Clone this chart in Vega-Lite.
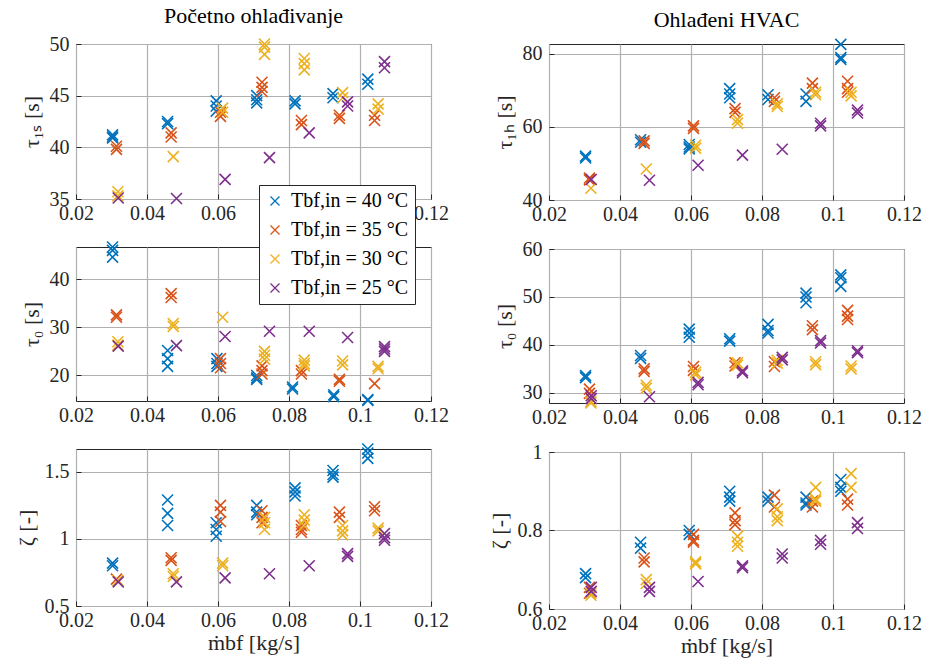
{
"$schema":"https://vega.github.io/schema/vega-lite/v6.json",
"padding":{"left":14,"top":4,"right":4,"bottom":4},
"config":{"font":"Liberation Serif","view":{"stroke":"#262626","strokeWidth":1},
"axis":{"grid":true,"gridColor":"#b0b0b0","gridWidth":1.2,"domain":false,"ticks":true,"tickSize":-5,"tickColor":"#262626","labelFont":"Liberation Serif","titleFont":"Liberation Serif","labelFontSize":20,"labelColor":"#262626","labelPadding":9,"titleFontSize":22,"titleFontWeight":"normal","titleColor":"#262626","labelFlush":false},
"axisY":{"labelPadding":12,"titlePadding":6},
"legend":{"orient":"none","legendX":183,"legendY":141,"fillColor":"white","strokeColor":"#262626","padding":6,"rowPadding":9,"labelFont":"Liberation Serif","labelFontSize":20,"labelColor":"#000","symbolType":"M-1,-1L1,1M-1,1L1,-1","symbolSize":81,"symbolStrokeWidth":1.3,"labelLimit":300,"labelOffset":6}},
"data":{"values":[
{"p":"a","T":"40","m":0.0303,"v":41.2},{"p":"a","T":"40","m":0.0303,"v":41.0},{"p":"a","T":"40","m":0.0303,"v":40.9},
{"p":"a","T":"40","m":0.0458,"v":42.5},{"p":"a","T":"40","m":0.0458,"v":42.3},
{"p":"a","T":"40","m":0.0595,"v":44.5},{"p":"a","T":"40","m":0.0595,"v":44.0},{"p":"a","T":"40","m":0.0595,"v":43.5},
{"p":"a","T":"40","m":0.0709,"v":45.0},{"p":"a","T":"40","m":0.0709,"v":44.6},{"p":"a","T":"40","m":0.0709,"v":44.3},
{"p":"a","T":"40","m":0.0817,"v":44.5},{"p":"a","T":"40","m":0.0817,"v":44.2},
{"p":"a","T":"40","m":0.0924,"v":45.2},{"p":"a","T":"40","m":0.0924,"v":44.8},
{"p":"a","T":"40","m":0.1022,"v":46.6},{"p":"a","T":"40","m":0.1022,"v":46.1},
{"p":"a","T":"35","m":0.0314,"v":40.1},{"p":"a","T":"35","m":0.0314,"v":39.8},
{"p":"a","T":"35","m":0.0468,"v":41.4},{"p":"a","T":"35","m":0.0468,"v":41.0},
{"p":"a","T":"35","m":0.0607,"v":43.4},{"p":"a","T":"35","m":0.0607,"v":43.0},
{"p":"a","T":"35","m":0.0724,"v":46.3},{"p":"a","T":"35","m":0.0724,"v":45.8},{"p":"a","T":"35","m":0.0724,"v":45.4},
{"p":"a","T":"35","m":0.0835,"v":42.6},{"p":"a","T":"35","m":0.0835,"v":42.2},
{"p":"a","T":"35","m":0.0942,"v":43.1},{"p":"a","T":"35","m":0.0942,"v":42.8},
{"p":"a","T":"35","m":0.1041,"v":43.1},{"p":"a","T":"35","m":0.1041,"v":42.6},
{"p":"a","T":"30","m":0.0318,"v":35.7},{"p":"a","T":"30","m":0.0318,"v":35.3},
{"p":"a","T":"30","m":0.0474,"v":39.1},
{"p":"a","T":"30","m":0.0613,"v":43.8},{"p":"a","T":"30","m":0.0613,"v":43.4},
{"p":"a","T":"30","m":0.0731,"v":50.0},{"p":"a","T":"30","m":0.0731,"v":49.7},{"p":"a","T":"30","m":0.0731,"v":49.0},
{"p":"a","T":"30","m":0.0843,"v":48.6},{"p":"a","T":"30","m":0.0843,"v":48.1},{"p":"a","T":"30","m":0.0843,"v":47.5},
{"p":"a","T":"30","m":0.0951,"v":45.3},{"p":"a","T":"30","m":0.0951,"v":44.8},
{"p":"a","T":"30","m":0.1051,"v":44.2},{"p":"a","T":"30","m":0.1051,"v":43.7},
{"p":"a","T":"25","m":0.0319,"v":35.1},
{"p":"a","T":"25","m":0.0483,"v":35.05},
{"p":"a","T":"25","m":0.062,"v":36.9},
{"p":"a","T":"25","m":0.0745,"v":39.0},
{"p":"a","T":"25","m":0.0857,"v":41.4},
{"p":"a","T":"25","m":0.0965,"v":44.4},{"p":"a","T":"25","m":0.0965,"v":44.0},
{"p":"a","T":"25","m":0.1069,"v":48.3},{"p":"a","T":"25","m":0.1069,"v":47.7},

{"p":"b","T":"40","m":0.0303,"v":52.0},{"p":"b","T":"40","m":0.0303,"v":51.5},
{"p":"b","T":"40","m":0.0458,"v":56.5},{"p":"b","T":"40","m":0.0458,"v":55.8},
{"p":"b","T":"40","m":0.0595,"v":55.2},{"p":"b","T":"40","m":0.0595,"v":54.5},{"p":"b","T":"40","m":0.0595,"v":54.0},
{"p":"b","T":"40","m":0.0709,"v":70.5},{"p":"b","T":"40","m":0.0709,"v":69.0},{"p":"b","T":"40","m":0.0709,"v":68.0},
{"p":"b","T":"40","m":0.0817,"v":68.8},{"p":"b","T":"40","m":0.0817,"v":67.5},
{"p":"b","T":"40","m":0.0924,"v":69.0},{"p":"b","T":"40","m":0.0924,"v":67.0},
{"p":"b","T":"40","m":0.1022,"v":82.6},{"p":"b","T":"40","m":0.1022,"v":79.0},{"p":"b","T":"40","m":0.1022,"v":78.5},
{"p":"b","T":"35","m":0.0314,"v":46.0},{"p":"b","T":"35","m":0.0314,"v":45.5},
{"p":"b","T":"35","m":0.0468,"v":56.2},{"p":"b","T":"35","m":0.0468,"v":55.5},
{"p":"b","T":"35","m":0.0607,"v":60.3},{"p":"b","T":"35","m":0.0607,"v":59.6},
{"p":"b","T":"35","m":0.0724,"v":65.0},{"p":"b","T":"35","m":0.0724,"v":64.0},
{"p":"b","T":"35","m":0.0835,"v":68.0},{"p":"b","T":"35","m":0.0835,"v":67.0},
{"p":"b","T":"35","m":0.0942,"v":72.0},{"p":"b","T":"35","m":0.0942,"v":70.5},
{"p":"b","T":"35","m":0.1041,"v":72.5},{"p":"b","T":"35","m":0.1041,"v":70.5},{"p":"b","T":"35","m":0.1041,"v":69.5},
{"p":"b","T":"30","m":0.0318,"v":43.2},
{"p":"b","T":"30","m":0.0474,"v":48.5},
{"p":"b","T":"30","m":0.0613,"v":55.0},{"p":"b","T":"30","m":0.0613,"v":54.2},
{"p":"b","T":"30","m":0.0731,"v":62.0},{"p":"b","T":"30","m":0.0731,"v":61.0},
{"p":"b","T":"30","m":0.0843,"v":66.3},{"p":"b","T":"30","m":0.0843,"v":65.6},
{"p":"b","T":"30","m":0.0951,"v":69.5},{"p":"b","T":"30","m":0.0951,"v":68.8},
{"p":"b","T":"30","m":0.1051,"v":69.5},{"p":"b","T":"30","m":0.1051,"v":68.5},
{"p":"b","T":"25","m":0.0319,"v":45.6},
{"p":"b","T":"25","m":0.0483,"v":45.4},
{"p":"b","T":"25","m":0.062,"v":49.5},
{"p":"b","T":"25","m":0.0745,"v":52.3},
{"p":"b","T":"25","m":0.0857,"v":53.9},
{"p":"b","T":"25","m":0.0965,"v":61.0},{"p":"b","T":"25","m":0.0965,"v":60.3},
{"p":"b","T":"25","m":0.1069,"v":64.6},{"p":"b","T":"25","m":0.1069,"v":63.8},

{"p":"c","T":"40","m":0.0303,"v":46.7},{"p":"c","T":"40","m":0.0303,"v":46.0},{"p":"c","T":"40","m":0.0303,"v":44.6},
{"p":"c","T":"40","m":0.0458,"v":25.2},{"p":"c","T":"40","m":0.0458,"v":23.5},{"p":"c","T":"40","m":0.0458,"v":21.9},
{"p":"c","T":"40","m":0.0597,"v":23.5},{"p":"c","T":"40","m":0.0597,"v":22.5},{"p":"c","T":"40","m":0.0597,"v":21.9},
{"p":"c","T":"40","m":0.0709,"v":20.0},{"p":"c","T":"40","m":0.0709,"v":19.5},{"p":"c","T":"40","m":0.0709,"v":19.2},
{"p":"c","T":"40","m":0.0810,"v":17.6},{"p":"c","T":"40","m":0.0810,"v":17.2},
{"p":"c","T":"40","m":0.0926,"v":16.0},{"p":"c","T":"40","m":0.0926,"v":15.6},
{"p":"c","T":"40","m":0.1022,"v":15.0},{"p":"c","T":"40","m":0.1022,"v":14.8},
{"p":"c","T":"35","m":0.0314,"v":32.6},{"p":"c","T":"35","m":0.0314,"v":32.1},
{"p":"c","T":"35","m":0.0468,"v":37.0},{"p":"c","T":"35","m":0.0468,"v":36.2},
{"p":"c","T":"35","m":0.0607,"v":23.5},{"p":"c","T":"35","m":0.0607,"v":22.5},{"p":"c","T":"35","m":0.0607,"v":21.6},
{"p":"c","T":"35","m":0.0724,"v":22.0},{"p":"c","T":"35","m":0.0724,"v":21.0},{"p":"c","T":"35","m":0.0724,"v":20.3},
{"p":"c","T":"35","m":0.0835,"v":21.0},{"p":"c","T":"35","m":0.0835,"v":20.3},
{"p":"c","T":"35","m":0.0942,"v":19.2},{"p":"c","T":"35","m":0.0942,"v":18.8},
{"p":"c","T":"35","m":0.1041,"v":18.3},
{"p":"c","T":"30","m":0.0318,"v":27.0},{"p":"c","T":"30","m":0.0318,"v":26.3},
{"p":"c","T":"30","m":0.0474,"v":30.8},{"p":"c","T":"30","m":0.0474,"v":30.2},
{"p":"c","T":"30","m":0.0613,"v":32.1},
{"p":"c","T":"30","m":0.0731,"v":25.0},{"p":"c","T":"30","m":0.0731,"v":24.2},{"p":"c","T":"30","m":0.0731,"v":23.4},
{"p":"c","T":"30","m":0.0843,"v":23.2},{"p":"c","T":"30","m":0.0843,"v":22.5},{"p":"c","T":"30","m":0.0843,"v":22.0},
{"p":"c","T":"30","m":0.0951,"v":23.0},{"p":"c","T":"30","m":0.0951,"v":22.2},
{"p":"c","T":"30","m":0.1051,"v":21.9},{"p":"c","T":"30","m":0.1051,"v":21.4},
{"p":"c","T":"25","m":0.0319,"v":26.1},
{"p":"c","T":"25","m":0.0483,"v":26.2},
{"p":"c","T":"25","m":0.062,"v":28.1},
{"p":"c","T":"25","m":0.0745,"v":29.2},
{"p":"c","T":"25","m":0.0857,"v":29.2},
{"p":"c","T":"25","m":0.0965,"v":27.9},
{"p":"c","T":"25","m":0.1069,"v":26.0},{"p":"c","T":"25","m":0.1069,"v":25.5},{"p":"c","T":"25","m":0.1069,"v":25.0},

{"p":"d","T":"40","m":0.0303,"v":33.6},{"p":"d","T":"40","m":0.0303,"v":33.2},
{"p":"d","T":"40","m":0.0458,"v":37.8},{"p":"d","T":"40","m":0.0458,"v":37.2},
{"p":"d","T":"40","m":0.0595,"v":43.3},{"p":"d","T":"40","m":0.0595,"v":42.5},{"p":"d","T":"40","m":0.0595,"v":41.6},
{"p":"d","T":"40","m":0.0709,"v":41.3},{"p":"d","T":"40","m":0.0709,"v":40.8},
{"p":"d","T":"40","m":0.0817,"v":44.3},{"p":"d","T":"40","m":0.0817,"v":43.0},{"p":"d","T":"40","m":0.0817,"v":42.5},
{"p":"d","T":"40","m":0.0924,"v":50.8},{"p":"d","T":"40","m":0.0924,"v":50.0},{"p":"d","T":"40","m":0.0924,"v":48.8},
{"p":"d","T":"40","m":0.1022,"v":54.6},{"p":"d","T":"40","m":0.1022,"v":54.0},{"p":"d","T":"40","m":0.1022,"v":52.2},
{"p":"d","T":"35","m":0.0314,"v":30.8},{"p":"d","T":"35","m":0.0314,"v":29.9},
{"p":"d","T":"35","m":0.0468,"v":35.0},{"p":"d","T":"35","m":0.0468,"v":34.5},
{"p":"d","T":"35","m":0.0607,"v":35.5},{"p":"d","T":"35","m":0.0607,"v":34.7},
{"p":"d","T":"35","m":0.0724,"v":36.3},{"p":"d","T":"35","m":0.0724,"v":35.6},
{"p":"d","T":"35","m":0.0835,"v":36.5},{"p":"d","T":"35","m":0.0835,"v":35.5},
{"p":"d","T":"35","m":0.0942,"v":44.0},{"p":"d","T":"35","m":0.0942,"v":43.2},
{"p":"d","T":"35","m":0.1041,"v":47.2},{"p":"d","T":"35","m":0.1041,"v":46.0},{"p":"d","T":"35","m":0.1041,"v":45.3},
{"p":"d","T":"30","m":0.0318,"v":28.2},{"p":"d","T":"30","m":0.0318,"v":27.9},
{"p":"d","T":"30","m":0.0474,"v":31.6},{"p":"d","T":"30","m":0.0474,"v":31.0},
{"p":"d","T":"30","m":0.0613,"v":34.3},{"p":"d","T":"30","m":0.0613,"v":33.8},
{"p":"d","T":"30","m":0.0731,"v":36.3},{"p":"d","T":"30","m":0.0731,"v":35.8},
{"p":"d","T":"30","m":0.0843,"v":36.8},{"p":"d","T":"30","m":0.0843,"v":36.2},
{"p":"d","T":"30","m":0.0951,"v":36.5},{"p":"d","T":"30","m":0.0951,"v":35.9},
{"p":"d","T":"30","m":0.1051,"v":35.6},{"p":"d","T":"30","m":0.1051,"v":35.0},
{"p":"d","T":"25","m":0.0319,"v":29.4},{"p":"d","T":"25","m":0.0319,"v":28.8},
{"p":"d","T":"25","m":0.0483,"v":29.2},
{"p":"d","T":"25","m":0.062,"v":32.2},{"p":"d","T":"25","m":0.062,"v":31.7},
{"p":"d","T":"25","m":0.0745,"v":34.6},{"p":"d","T":"25","m":0.0745,"v":34.2},
{"p":"d","T":"25","m":0.0857,"v":37.4},{"p":"d","T":"25","m":0.0857,"v":36.9},
{"p":"d","T":"25","m":0.0965,"v":40.9},{"p":"d","T":"25","m":0.0965,"v":40.4},
{"p":"d","T":"25","m":0.1069,"v":38.8},{"p":"d","T":"25","m":0.1069,"v":38.4},

{"p":"e","T":"40","m":0.0303,"v":0.82},{"p":"e","T":"40","m":0.0303,"v":0.80},
{"p":"e","T":"40","m":0.0458,"v":1.29},{"p":"e","T":"40","m":0.0458,"v":1.19},{"p":"e","T":"40","m":0.0458,"v":1.10},
{"p":"e","T":"40","m":0.0595,"v":1.12},{"p":"e","T":"40","m":0.0595,"v":1.07},{"p":"e","T":"40","m":0.0595,"v":1.02},
{"p":"e","T":"40","m":0.0709,"v":1.25},{"p":"e","T":"40","m":0.0709,"v":1.20},{"p":"e","T":"40","m":0.0709,"v":1.18},
{"p":"e","T":"40","m":0.0817,"v":1.38},{"p":"e","T":"40","m":0.0817,"v":1.35},{"p":"e","T":"40","m":0.0817,"v":1.32},
{"p":"e","T":"40","m":0.0924,"v":1.51},{"p":"e","T":"40","m":0.0924,"v":1.48},{"p":"e","T":"40","m":0.0924,"v":1.46},
{"p":"e","T":"40","m":0.1022,"v":1.67},{"p":"e","T":"40","m":0.1022,"v":1.64},{"p":"e","T":"40","m":0.1022,"v":1.60},
{"p":"e","T":"35","m":0.0314,"v":0.70},
{"p":"e","T":"35","m":0.0468,"v":0.86},{"p":"e","T":"35","m":0.0468,"v":0.84},
{"p":"e","T":"35","m":0.0607,"v":1.25},{"p":"e","T":"35","m":0.0607,"v":1.20},{"p":"e","T":"35","m":0.0607,"v":1.13},
{"p":"e","T":"35","m":0.0724,"v":1.21},{"p":"e","T":"35","m":0.0724,"v":1.16},{"p":"e","T":"35","m":0.0724,"v":1.12},
{"p":"e","T":"35","m":0.0835,"v":1.10},{"p":"e","T":"35","m":0.0835,"v":1.07},{"p":"e","T":"35","m":0.0835,"v":1.05},
{"p":"e","T":"35","m":0.0942,"v":1.20},{"p":"e","T":"35","m":0.0942,"v":1.16},
{"p":"e","T":"35","m":0.1041,"v":1.24},{"p":"e","T":"35","m":0.1041,"v":1.21},
{"p":"e","T":"30","m":0.0318,"v":0.69},
{"p":"e","T":"30","m":0.0474,"v":0.74},{"p":"e","T":"30","m":0.0474,"v":0.72},
{"p":"e","T":"30","m":0.0613,"v":0.82},{"p":"e","T":"30","m":0.0613,"v":0.80},
{"p":"e","T":"30","m":0.0731,"v":1.16},{"p":"e","T":"30","m":0.0731,"v":1.12},{"p":"e","T":"30","m":0.0731,"v":1.07},
{"p":"e","T":"30","m":0.0843,"v":1.18},{"p":"e","T":"30","m":0.0843,"v":1.14},{"p":"e","T":"30","m":0.0843,"v":1.10},
{"p":"e","T":"30","m":0.0951,"v":1.10},{"p":"e","T":"30","m":0.0951,"v":1.06},{"p":"e","T":"30","m":0.0951,"v":1.03},
{"p":"e","T":"30","m":0.1051,"v":1.08},{"p":"e","T":"30","m":0.1051,"v":1.06},
{"p":"e","T":"25","m":0.0319,"v":0.68},
{"p":"e","T":"25","m":0.0483,"v":0.68},
{"p":"e","T":"25","m":0.062,"v":0.71},
{"p":"e","T":"25","m":0.0745,"v":0.74},
{"p":"e","T":"25","m":0.0857,"v":0.80},
{"p":"e","T":"25","m":0.0965,"v":0.89},{"p":"e","T":"25","m":0.0965,"v":0.87},
{"p":"e","T":"25","m":0.1069,"v":1.04},{"p":"e","T":"25","m":0.1069,"v":1.01},{"p":"e","T":"25","m":0.1069,"v":0.99},

{"p":"f","T":"40","m":0.0303,"v":0.69},{"p":"f","T":"40","m":0.0303,"v":0.68},
{"p":"f","T":"40","m":0.0458,"v":0.77},{"p":"f","T":"40","m":0.0458,"v":0.755},
{"p":"f","T":"40","m":0.0595,"v":0.80},{"p":"f","T":"40","m":0.0595,"v":0.79},
{"p":"f","T":"40","m":0.0709,"v":0.90},{"p":"f","T":"40","m":0.0709,"v":0.885},{"p":"f","T":"40","m":0.0709,"v":0.875},
{"p":"f","T":"40","m":0.0817,"v":0.885},{"p":"f","T":"40","m":0.0817,"v":0.875},
{"p":"f","T":"40","m":0.0924,"v":0.885},{"p":"f","T":"40","m":0.0924,"v":0.87},{"p":"f","T":"40","m":0.0924,"v":0.865},
{"p":"f","T":"40","m":0.1022,"v":0.93},{"p":"f","T":"40","m":0.1022,"v":0.91},{"p":"f","T":"40","m":0.1022,"v":0.90},
{"p":"f","T":"35","m":0.0314,"v":0.655},{"p":"f","T":"35","m":0.0314,"v":0.64},
{"p":"f","T":"35","m":0.0468,"v":0.73},{"p":"f","T":"35","m":0.0468,"v":0.72},
{"p":"f","T":"35","m":0.0607,"v":0.79},{"p":"f","T":"35","m":0.0607,"v":0.775},{"p":"f","T":"35","m":0.0607,"v":0.77},
{"p":"f","T":"35","m":0.0724,"v":0.845},{"p":"f","T":"35","m":0.0724,"v":0.825},{"p":"f","T":"35","m":0.0724,"v":0.815},
{"p":"f","T":"35","m":0.0835,"v":0.89},{"p":"f","T":"35","m":0.0835,"v":0.86},
{"p":"f","T":"35","m":0.0942,"v":0.875},{"p":"f","T":"35","m":0.0942,"v":0.86},
{"p":"f","T":"35","m":0.1041,"v":0.88},{"p":"f","T":"35","m":0.1041,"v":0.865},
{"p":"f","T":"30","m":0.0318,"v":0.64},{"p":"f","T":"30","m":0.0318,"v":0.635},
{"p":"f","T":"30","m":0.0474,"v":0.675},{"p":"f","T":"30","m":0.0474,"v":0.665},
{"p":"f","T":"30","m":0.0613,"v":0.72},{"p":"f","T":"30","m":0.0613,"v":0.715},
{"p":"f","T":"30","m":0.0731,"v":0.785},{"p":"f","T":"30","m":0.0731,"v":0.77},{"p":"f","T":"30","m":0.0731,"v":0.76},
{"p":"f","T":"30","m":0.0843,"v":0.855},{"p":"f","T":"30","m":0.0843,"v":0.835},{"p":"f","T":"30","m":0.0843,"v":0.825},
{"p":"f","T":"30","m":0.0951,"v":0.91},{"p":"f","T":"30","m":0.0951,"v":0.88},{"p":"f","T":"30","m":0.0951,"v":0.875},
{"p":"f","T":"30","m":0.1051,"v":0.945},{"p":"f","T":"30","m":0.1051,"v":0.91},
{"p":"f","T":"25","m":0.0319,"v":0.655},{"p":"f","T":"25","m":0.0319,"v":0.645},
{"p":"f","T":"25","m":0.0483,"v":0.655},{"p":"f","T":"25","m":0.0483,"v":0.645},
{"p":"f","T":"25","m":0.062,"v":0.67},
{"p":"f","T":"25","m":0.0745,"v":0.71},{"p":"f","T":"25","m":0.0745,"v":0.705},
{"p":"f","T":"25","m":0.0857,"v":0.74},{"p":"f","T":"25","m":0.0857,"v":0.73},
{"p":"f","T":"25","m":0.0965,"v":0.775},{"p":"f","T":"25","m":0.0965,"v":0.765},
{"p":"f","T":"25","m":0.1069,"v":0.82},{"p":"f","T":"25","m":0.1069,"v":0.805}
]},
"spacing":38,
"hconcat":[
{"vconcat":[
{"width":355,"height":155,"title":{"text":"Početno ohlađivanje","fontSize":22,"fontWeight":"normal","font":"Liberation Serif","color":"#000","offset":6},
"transform":[{"filter":"datum.p==='a'"}],
"mark":{"type":"point","shape":"M-1,-1L1,1M-1,1L1,-1","filled":false,"size":121,"strokeWidth":1.6,"opacity":1},
"encoding":{"x":{"field":"m","type":"quantitative","scale":{"domain":[0.02,0.12],"nice":false,"zero":false},"axis":{"values":[0.02,0.04,0.06,0.08,0.1,0.12],"format":"~f","title":null}},
"y":{"field":"v","type":"quantitative","scale":{"domain":[35,50],"nice":false,"zero":false},"axis":{"values":[35,40,45,50],"format":"~f","title":"τ₁ₛ [s]"}},
"color":{"field":"T","type":"nominal","scale":{"domain":["40","35","30","25"],"range":["#0072BD","#D95319","#EDB120","#7E2F8E"]},"legend":{"title":null,"labelFont":"Liberation Serif","labelExpr":"'Tbf,in = ' + datum.label + ' °C'"}}}},
{"width":355,"height":154,
"transform":[{"filter":"datum.p==='c'"}],
"mark":{"type":"point","shape":"M-1,-1L1,1M-1,1L1,-1","filled":false,"size":121,"strokeWidth":1.6,"opacity":1},
"encoding":{"x":{"field":"m","type":"quantitative","scale":{"domain":[0.02,0.12],"nice":false,"zero":false},"axis":{"values":[0.02,0.04,0.06,0.08,0.1,0.12],"format":"~f","title":null}},
"y":{"field":"v","type":"quantitative","scale":{"domain":[14.7,46.7],"nice":false,"zero":false},"axis":{"values":[20,30,40],"format":"~f","title":"τ₀ [s]"}},
"color":{"field":"T","type":"nominal","scale":{"domain":["40","35","30","25"],"range":["#0072BD","#D95319","#EDB120","#7E2F8E"]},"legend":{"title":null,"labelFont":"Liberation Serif","labelExpr":"'Tbf,in = ' + datum.label + ' °C'"}}}},
{"width":355,"height":157,
"transform":[{"filter":"datum.p==='e'"}],
"mark":{"type":"point","shape":"M-1,-1L1,1M-1,1L1,-1","filled":false,"size":121,"strokeWidth":1.6,"opacity":1},
"encoding":{"x":{"field":"m","type":"quantitative","scale":{"domain":[0.02,0.12],"nice":false,"zero":false},"axis":{"values":[0.02,0.04,0.06,0.08,0.1,0.12],"format":"~f","title":"ṁbf [kg/s]","titlePadding":2}},
"y":{"field":"v","type":"quantitative","scale":{"domain":[0.5,1.67],"nice":false,"zero":false},"axis":{"values":[0.5,1,1.5],"format":"~f","title":"ζ [-]"}},
"color":{"field":"T","type":"nominal","scale":{"domain":["40","35","30","25"],"range":["#0072BD","#D95319","#EDB120","#7E2F8E"]},"legend":{"title":null,"labelFont":"Liberation Serif","labelExpr":"'Tbf,in = ' + datum.label + ' °C'"}}}}
],"spacing":13},
{"vconcat":[
{"width":355,"height":156,"title":{"text":"Ohlađeni HVAC","fontSize":22,"fontWeight":"normal","font":"Liberation Serif","color":"#000","offset":4},
"transform":[{"filter":"datum.p==='b'"}],
"mark":{"type":"point","shape":"M-1,-1L1,1M-1,1L1,-1","filled":false,"size":121,"strokeWidth":1.6,"opacity":1},
"encoding":{"x":{"field":"m","type":"quantitative","scale":{"domain":[0.02,0.12],"nice":false,"zero":false},"axis":{"values":[0.02,0.04,0.06,0.08,0.1,0.12],"format":"~f","title":null}},
"y":{"field":"v","type":"quantitative","scale":{"domain":[40,82.7],"nice":false,"zero":false},"axis":{"values":[40,60,80],"format":"~f","title":"τ₁ₕ [s]"}},
"color":{"field":"T","type":"nominal","scale":{"domain":["40","35","30","25"],"range":["#0072BD","#D95319","#EDB120","#7E2F8E"]},"legend":{"title":null,"labelFont":"Liberation Serif","labelExpr":"'Tbf,in = ' + datum.label + ' °C'"}}}},
{"width":355,"height":154,
"transform":[{"filter":"datum.p==='d'"}],
"mark":{"type":"point","shape":"M-1,-1L1,1M-1,1L1,-1","filled":false,"size":121,"strokeWidth":1.6,"opacity":1},
"encoding":{"x":{"field":"m","type":"quantitative","scale":{"domain":[0.02,0.12],"nice":false,"zero":false},"axis":{"values":[0.02,0.04,0.06,0.08,0.1,0.12],"format":"~f","title":null}},
"y":{"field":"v","type":"quantitative","scale":{"domain":[27.9,60],"nice":false,"zero":false},"axis":{"values":[30,40,50,60],"format":"~f","title":"τ₀ [s]"}},
"color":{"field":"T","type":"nominal","scale":{"domain":["40","35","30","25"],"range":["#0072BD","#D95319","#EDB120","#7E2F8E"]},"legend":{"title":null,"labelFont":"Liberation Serif","labelExpr":"'Tbf,in = ' + datum.label + ' °C'"}}}},
{"width":355,"height":157,
"transform":[{"filter":"datum.p==='f'"}],
"mark":{"type":"point","shape":"M-1,-1L1,1M-1,1L1,-1","filled":false,"size":121,"strokeWidth":1.6,"opacity":1},
"encoding":{"x":{"field":"m","type":"quantitative","scale":{"domain":[0.02,0.12],"nice":false,"zero":false},"axis":{"values":[0.02,0.04,0.06,0.08,0.1,0.12],"format":"~f","title":"ṁbf [kg/s]","titlePadding":2}},
"y":{"field":"v","type":"quantitative","scale":{"domain":[0.6,1],"nice":false,"zero":false},"axis":{"values":[0.6,0.8,1],"format":"~f","title":"ζ [-]"}},
"color":{"field":"T","type":"nominal","scale":{"domain":["40","35","30","25"],"range":["#0072BD","#D95319","#EDB120","#7E2F8E"]},"legend":{"title":null,"labelFont":"Liberation Serif","labelExpr":"'Tbf,in = ' + datum.label + ' °C'"}}}}
],"spacing":13}
]
}
